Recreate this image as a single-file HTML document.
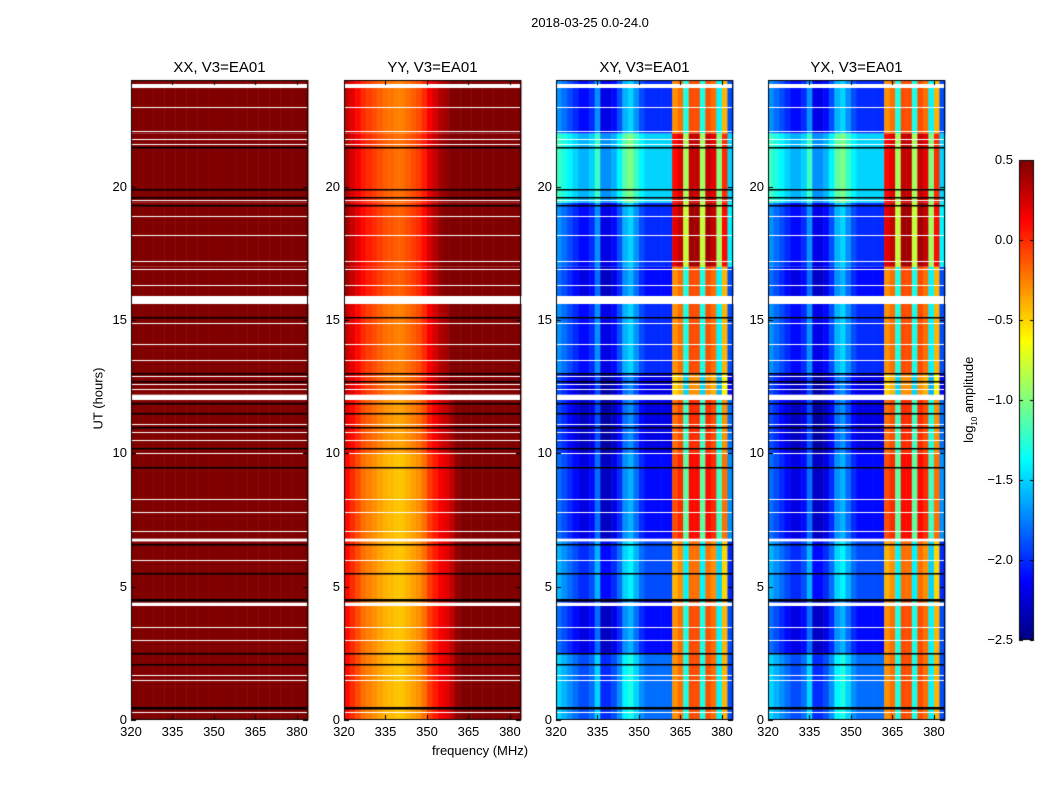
<!DOCTYPE html>
<html><head><meta charset="utf-8">
<style>
body{margin:0;background:#fff;font-family:"Liberation Sans","DejaVu Sans",sans-serif;}
#wrap{position:relative;width:1050px;height:800px;overflow:hidden;background:#fff;}
canvas{position:absolute;left:0;top:0;}
.t{position:absolute;color:#000;white-space:nowrap;}
</style></head>
<body>
<div id="wrap">
<canvas id="cv" width="1050" height="800"></canvas>
<div class="t" style="left:0;width:1180px;top:15px;text-align:center;font-size:13px">2018-03-25 0.0-24.0</div>
<div class="t" style="left:131px;width:177px;top:59px;text-align:center;font-size:15px">XX, V3=EA01</div>
<div class="t" style="left:344px;width:177px;top:59px;text-align:center;font-size:15px">YY, V3=EA01</div>
<div class="t" style="left:556px;width:177px;top:59px;text-align:center;font-size:15px">XY, V3=EA01</div>
<div class="t" style="left:768px;width:177px;top:59px;text-align:center;font-size:15px">YX, V3=EA01</div>
<div class="t" style="left:432px;top:743px;font-size:13px">frequency (MHz)</div>
<div class="t" style="left:48px;top:391px;width:100px;text-align:center;font-size:13px;transform:rotate(-90deg)">UT (hours)</div>
<div class="t" style="left:910px;top:391px;width:120px;text-align:center;font-size:13px;transform:rotate(-90deg)">log<sub style="font-size:8px">10</sub> amplitude</div>
<div id="labels"></div>
</div>
<script>
// ---- data ----
const freqBins = [320,322,324,326,328,330,332,334,336,338,340,342,344,346,348,350,352,354,356,358,360,362,364,366,368,370,372,374,376,378,380,382];
const xxProfile = [0.6,0.6,0.6,0.6,0.6,0.6,0.6,0.6,0.6,0.6,0.6,0.6,0.6,0.6,0.6,0.6,0.6,0.6,0.6,0.6,0.6,0.6,0.6,0.6,0.6,0.6,0.6,0.6,0.6,0.6,0.6,0.6];
const yyProfile = [0.1,0.0,-0.1,-0.2,-0.25,-0.3,-0.35,-0.4,-0.42,-0.45,-0.45,-0.4,-0.35,-0.3,-0.2,-0.05,0.05,0.15,0.2,0.3,0.45,0.6,0.6,0.6,0.6,0.6,0.6,0.6,0.6,0.6,0.6,0.6];
const xyProfile = [-1.8,-1.9,-2.0,-2.1,-2.2,-2.2,-2.1,-1.8,-2.3,-2.3,-2.2,-2.0,-1.7,-1.6,-1.8,-2.0,-2.1,-2.1,-2.1,-2.1,-2.1,-0.3,-0.2,-1.3,-0.1,-0.1,-1.3,-0.1,-0.2,-1.4,-0.4,-1.9];
const segStart = [0,2.5,4.5,6.7,10,12,13,15.9,17,19.4,22];
const segEnd = [2.5,4.5,6.7,10,12,13,15.6,17,19.4,22,24];
const xyLeftOff = [0.3,0.0,0.2,0.0,-0.1,-0.1,0.1,0.0,0.1,0.6,0.1];
const xyRightOff = [0.0,0.0,-0.1,0.2,0.1,-0.2,0.0,0.0,0.5,0.4,0.0];
const yyOff = [0,0,0,0,0.1,0.2,0.2,0.3,0.3,0.25,0.2];
const whiteGaps = [[23.7,23.85],[15.6,15.9],[12.0,12.2],[6.7,6.8],[4.3,4.4]];
const whiteLines = [23.0,22.1,21.8,21.6,19.5,18.9,18.2,17.2,16.9,16.3,14.9,14.1,13.5,12.9,12.6,12.4,11.1,10.8,10.5,10.0,8.3,7.8,7.1,6.0,4.3,3.5,3.0,1.7,1.5,0.3];
const blackLines = [21.5,19.9,19.6,19.3,15.1,13.0,12.7,11.9,11.5,11.0,10.2,9.5,6.6,5.5,4.55,4.5,2.5,2.1,0.5,0.45];
const xTicks = [320,335,350,365,380];
const yTicks = [0,5,10,15,20];
const cbTicks = [0.5,0.0,-0.5,-1.0,-1.5,-2.0,-2.5];
// ---- layout ----
const panelLeft = [131,344,556,768], PW=177, PT=80, PB=720;
const fmin=320,fmax=384,tmin=0,tmax=24,vmin=-2.5,vmax=0.5;
const cbX=1019,cbW=15,cbT=160,cbB=640;
const ctx=document.getElementById('cv').getContext('2d');
const xs=(p,f)=>panelLeft[p]+(f-fmin)/(fmax-fmin)*PW;
const ys=h=>PB-(h-tmin)/(tmax-tmin)*(PB-PT);
function jet(v){let x=Math.max(0,Math.min(1,(v-vmin)/(vmax-vmin)));
 const c=t=>Math.max(0,Math.min(1,t));
 const r=c(1.5-Math.abs(4*x-3)),g=c(1.5-Math.abs(4*x-2)),b=c(1.5-Math.abs(4*x-1));
 return `rgb(${Math.round(r*255)},${Math.round(g*255)},${Math.round(b*255)})`;}
function val(p,i,s){
 const f=freqBins[i];
 if(p===0) return xxProfile[i];
 if(p===1) return yyProfile[i]+yyOff[s];
 return xyProfile[i]+(f<361?xyLeftOff[s]:xyRightOff[s]);}
for(let p=0;p<4;p++){
 ctx.fillStyle='#fff';ctx.fillRect(panelLeft[p],PT,PW,PB-PT);
 for(let s=0;s<segStart.length;s++){
  for(let i=0;i<freqBins.length;i++){
   ctx.fillStyle=jet(val(p,i,s));
   const x0=xs(p,freqBins[i]),x1=xs(p,freqBins[i]+2);
   const y0=ys(segEnd[s]),y1=ys(segStart[s]);
   ctx.fillRect(x0,y0,x1-x0+0.5,y1-y0);
  }}
 ctx.fillStyle='#fff';
 whiteGaps.forEach(g=>{ctx.fillRect(panelLeft[p],ys(g[1]),PW,ys(g[0])-ys(g[1]));});
 whiteLines.forEach(h=>{ctx.fillRect(panelLeft[p],Math.round(ys(h)),PW,1);});
 ctx.fillStyle='#000';
 blackLines.forEach(h=>{ctx.fillRect(panelLeft[p],Math.round(ys(h)),PW,1.5);});
 ctx.strokeStyle='#000';ctx.lineWidth=1;
 ctx.strokeRect(panelLeft[p]+0.5,PT+0.5,PW-1,PB-PT-1);
 ctx.beginPath();
 xTicks.forEach(f=>{const x=Math.round(xs(p,f))+0.5;ctx.moveTo(x,PB);ctx.lineTo(x,PB-5);ctx.moveTo(x,PT);ctx.lineTo(x,PT+5);});
 yTicks.forEach(h=>{const y=Math.round(ys(h))+0.5;ctx.moveTo(panelLeft[p],y);ctx.lineTo(panelLeft[p]+5,y);ctx.moveTo(panelLeft[p]+PW,y);ctx.lineTo(panelLeft[p]+PW-5,y);});
 ctx.stroke();
}
// colorbar
for(let y=cbT;y<cbB;y++){const v=vmax-(y-cbT)/(cbB-cbT)*(vmax-vmin);ctx.fillStyle=jet(v);ctx.fillRect(cbX,y,cbW,1);}
ctx.strokeStyle='#000';ctx.strokeRect(cbX+0.5,cbT+0.5,cbW-1,cbB-cbT-1);
ctx.beginPath();
cbTicks.forEach(v=>{const y=Math.round(cbT+(vmax-v)/(vmax-vmin)*(cbB-cbT))+0.5;ctx.moveTo(cbX,y);ctx.lineTo(cbX+4,y);ctx.moveTo(cbX+cbW,y);ctx.lineTo(cbX+cbW-4,y);});
ctx.stroke();
// labels
const lab=document.getElementById('labels');
function addLabel(txt,x,y,align,name){const d=document.createElement('div');d.className='t';d.style.fontSize='13px';d.textContent=txt;
 d.style.top=(y-8)+'px';
 if(align==='c'){d.style.left=(x-30)+'px';d.style.width='60px';d.style.textAlign='center';}
 else{d.style.left=(x-60)+'px';d.style.width='60px';d.style.textAlign='right';}
 
 
 lab.appendChild(d);}
for(let p=0;p<4;p++){
 xTicks.forEach(f=>addLabel(String(f),xs(p,f),732,'c','x-tick-label'));
 yTicks.forEach(h=>addLabel(String(h),panelLeft[p]-4,ys(h),'r','y-tick-label'));
}
cbTicks.forEach(v=>addLabel(v.toFixed(1).replace('-','\u2212'),cbX-6,cbT+(vmax-v)/(vmax-vmin)*(cbB-cbT),'r','colorbar-tick-label'));
</script>
</body></html>
